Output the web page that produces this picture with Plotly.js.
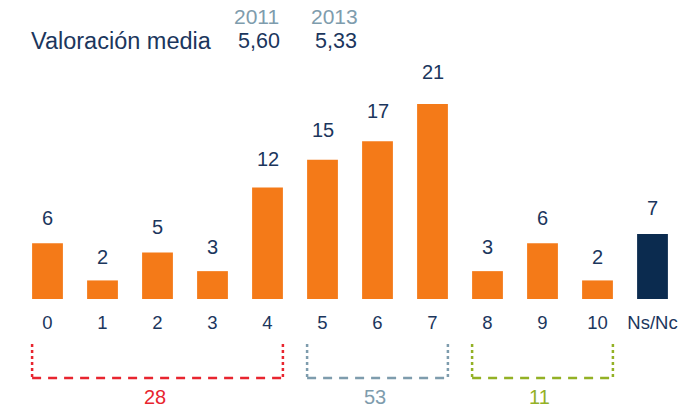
<!DOCTYPE html>
<html>
<head>
<meta charset="utf-8">
<script src="https://cdn.plot.ly/plotly-3.0.1.min.js"></script>
<style>
html,body{margin:0;padding:0;background:#fff;}
#chart{width:700px;height:409px;}
</style>
</head>
<body>
<div id="chart"></div>
<script>
// ---- data ----
const categories = ["0","1","2","3","4","5","6","7","8","9","10","Ns/Nc"];
const values = [6, 2, 5, 3, 12, 15, 17, 21, 3, 6, 2, 7];
const groupLabels = ["28", "53", "11"];
const groupStart = [0, 5, 8];
const groupEnd = [4, 7, 10];
const years = ["2011", "2013"];
const meanLabel = "Valoración media";
const meanValues = ["5,60", "5,33"];

// ---- styles ----
const ORANGE = "#f47a18";
const NAVY_BAR = "#0b2b4f";
const NAVY_TEXT = "#1b365d";
const GREY = "#7e9cad";
const groupColors = ["#e8252f", "#7e9cad", "#93b125"];
const FONT = "'Liberation Sans', Arial, Helvetica, sans-serif";

const xIdx = categories.map((c, i) => i);
const barColors = categories.map(c => c === "Ns/Nc" ? NAVY_BAR : ORANGE);

const trace = {
  type: "bar",
  x: xIdx,
  y: values,
  marker: {color: barColors, line: {width: 0}},
  hoverinfo: "none"
};

const annotations = [];
values.forEach((v, i) => {
  annotations.push({
    x: i, y: v, xref: "x", yref: "y",
    text: String(v), showarrow: false,
    xanchor: "center", yanchor: "middle",
    yshift: 23 + 0.45 * v,
    font: {family: FONT, size: 20, color: NAVY_TEXT}
  });
});

const shapes = [];
const half = 0.28;
const yTop = -0.188, yBot = -0.3305;
groupLabels.forEach((lab, g) => {
  const x0 = groupStart[g] - half, x1 = groupEnd[g] + half;
  const col = groupColors[g];
  shapes.push({type: "line", xref: "x", yref: "paper", x0: x0, x1: x0, y0: yTop, y1: yBot,
    line: {color: col, width: 2.5, dash: "dot"}});
  shapes.push({type: "line", xref: "x", yref: "paper", x0: x1, x1: x1, y0: yTop, y1: yBot,
    line: {color: col, width: 2.5, dash: "dot"}});
  shapes.push({type: "line", xref: "x", yref: "paper", x0: x0, x1: x1, y0: yBot, y1: yBot,
    line: {color: col, width: 2.5, dash: "9px,7px"}});
  annotations.push({
    x: (x0 + x1) / 2 - 0.05, y: -0.411, xref: "x", yref: "paper",
    text: lab, showarrow: false, xanchor: "center", yanchor: "middle",
    borderpad: 0,
    font: {family: FONT, size: 20, color: col}
  });
});

// header texts
annotations.push({x: 0.0136, y: 1.0795, xref: "paper", yref: "paper", text: meanLabel,
  showarrow: false, xanchor: "left", yanchor: "middle",
  font: {family: FONT, size: 23.5, color: NAVY_TEXT}});
const yearX = [0.359, 0.476];
years.forEach((yr, k) => {
  annotations.push({x: yearX[k], y: 1.184, xref: "paper", yref: "paper", text: yr,
    showarrow: false, xanchor: "center", yanchor: "middle",
    font: {family: FONT, size: 21, color: GREY}});
  annotations.push({x: yearX[k] + 0.003, y: 1.0795, xref: "paper", yref: "paper", text: meanValues[k],
    showarrow: false, xanchor: "center", yanchor: "middle",
    font: {family: FONT, size: 21.5, color: NAVY_TEXT}});
});

const layout = {
  width: 700, height: 409,
  margin: {l: 20, r: 20, t: 60, b: 110, pad: 0},
  paper_bgcolor: "#ffffff", plot_bgcolor: "#ffffff",
  showlegend: false,
  bargap: 0.44,
  xaxis: {
    range: [-0.5, 11.5], tickmode: "array", tickvals: xIdx, ticktext: categories,
    showgrid: false, zeroline: false, showline: false, ticks: "",
    ticklabelstandoff: 10,
    tickfont: {family: FONT, size: 18.5, color: NAVY_TEXT}, fixedrange: true
  },
  yaxis: {
    range: [0, 25.74], visible: false, showgrid: false, zeroline: false, fixedrange: true
  },
  annotations: annotations,
  shapes: shapes
};

Plotly.newPlot("chart", [trace], layout, {displayModeBar: false, staticPlot: true});
</script>
</body>
</html>
